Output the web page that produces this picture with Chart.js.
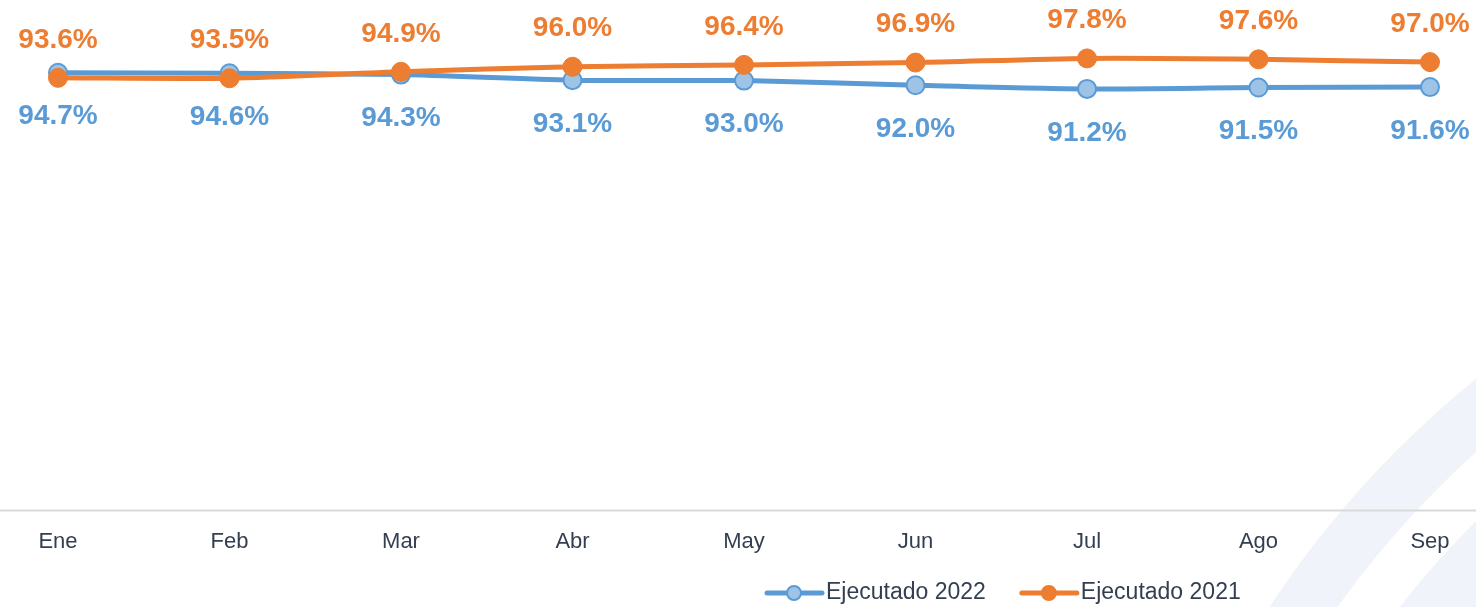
<!DOCTYPE html>
<html>
<head>
<meta charset="utf-8">
<script src="https://cdn.jsdelivr.net/npm/chart.js@4/dist/chart.umd.min.js"></script>
<style>
  html, body { margin: 0; padding: 0; background: #fff; }
  #wrap { width: 1476px; height: 607px; position: relative; }
</style>
</head>
<body>
<div id="wrap"><canvas id="myChart"></canvas></div>
<script>
const meses = ['Ene', 'Feb', 'Mar', 'Abr', 'May', 'Jun', 'Jul', 'Ago', 'Sep'];
const ejecutado2022 = [94.7, 94.6, 94.3, 93.1, 93.0, 92.0, 91.2, 91.5, 91.6];
const ejecutado2021 = [93.6, 93.5, 94.9, 96.0, 96.4, 96.9, 97.8, 97.6, 97.0];
const series = ['Ejecutado 2022', 'Ejecutado 2021'];

const azul = '#5B9BD5';
const azulClaro = '#9DC3E6';
const naranja = '#ED7D31';
const textoEje = '#333F50';

// fondo: dos arcos claros abajo a la derecha
const fondo = {
    id: 'fondo',
    beforeDraw(chart) {
        const ctx = chart.ctx;
        ctx.save();
        ctx.fillStyle = '#fff';
        ctx.fillRect(0, 0, chart.width, chart.height);
        ctx.strokeStyle = '#F0F3F9';
        ctx.lineWidth = 56;
        ctx.beginPath();
        ctx.arc(2100, 1150, 964, 0, Math.PI * 2);
        ctx.stroke();
        ctx.lineWidth = 80;
        ctx.beginPath();
        ctx.arc(2100, 1150, 846, 0, Math.PI * 2);
        ctx.stroke();
        ctx.restore();
    },
    beforeDatasetsDraw(chart) {
        // linea base de ancho completo
        const ctx = chart.ctx;
        const y = chart.chartArea.bottom;
        ctx.save();
        ctx.strokeStyle = '#D9D9D9';
        ctx.lineWidth = 2;
        ctx.beginPath();
        ctx.moveTo(0, y);
        ctx.lineTo(chart.width, y);
        ctx.stroke();
        ctx.restore();
    }
};

// etiquetas de valor
const etiquetas = {
    id: 'etiquetas',
    afterDatasetsDraw(chart) {
        const ctx = chart.ctx;
        ctx.save();
        ctx.font = 'bold 28px "Liberation Sans", Arial, sans-serif';
        ctx.textAlign = 'center';
        ctx.textBaseline = 'middle';
        chart.data.datasets.forEach((ds, i) => {
            const meta = chart.getDatasetMeta(i);
            const dy = i === 0 ? 44 : -38;
            ctx.fillStyle = ds.borderColor;
            meta.data.forEach((pt, j) => {
                ctx.fillText(ds.data[j].toFixed(1) + '%', pt.x, pt.y + dy);
            });
        });
        ctx.restore();
    }
};

// leyenda propia (desplazada a la derecha como en el original)
const leyenda = {
    id: 'leyenda',
    afterDraw(chart) {
        const ctx = chart.ctx;
        const y = 593;
        let x = 767;
        ctx.save();
        ctx.font = '23px "Liberation Sans", Arial, sans-serif';
        ctx.textBaseline = 'middle';
        chart.data.datasets.forEach((ds) => {
            ctx.strokeStyle = ds.borderColor;
            ctx.lineWidth = 5;
            ctx.lineCap = 'round';
            ctx.beginPath();
            ctx.moveTo(x, y);
            ctx.lineTo(x + 55, y);
            ctx.stroke();
            ctx.beginPath();
            ctx.arc(x + 27, y, 7, 0, Math.PI * 2);
            ctx.fillStyle = ds.pointBackgroundColor;
            ctx.fill();
            ctx.lineWidth = 2;
            ctx.stroke();
            ctx.fillStyle = textoEje;
            ctx.fillText(ds.label, x + 59, y);
            x += 59 + ctx.measureText(ds.label).width + 36;
        });
        ctx.restore();
    }
};

new Chart(document.getElementById('myChart'), {
    type: 'line',
    data: {
        labels: meses,
        datasets: [{
            label: series[0],
            data: ejecutado2022,
            borderColor: azul,
            backgroundColor: azul,
            pointBackgroundColor: azulClaro,
            pointBorderColor: azul,
            pointBorderWidth: 2,
            pointRadius: 9,
            borderWidth: 5,
            tension: 0.25,
            order: 1
        }, {
            label: series[1],
            data: ejecutado2021,
            borderColor: naranja,
            backgroundColor: naranja,
            pointBackgroundColor: naranja,
            pointBorderColor: naranja,
            pointBorderWidth: 1,
            pointRadius: 9.5,
            borderWidth: 5,
            tension: 0.25,
            order: 0
        }]
    },
    options: {
        responsive: true,
        maintainAspectRatio: false,
        animation: false,
        layout: { autoPadding: false, padding: { left: 58, right: 46, top: 2, bottom: 34 } },
        scales: {
            x: {
                offset: false,
                grid: { display: false, drawTicks: false },
                border: { display: false },
                ticks: {
                    padding: 18,
                    color: textoEje,
                    font: { family: '"Liberation Sans", Arial, sans-serif', size: 22 }
                }
            },
            y: {
                display: false,
                min: 0,
                max: 110
            }
        },
        plugins: {
            legend: { display: false },
            tooltip: { enabled: false }
        }
    },
    plugins: [fondo, etiquetas, leyenda]
});
</script>
</body>
</html>
